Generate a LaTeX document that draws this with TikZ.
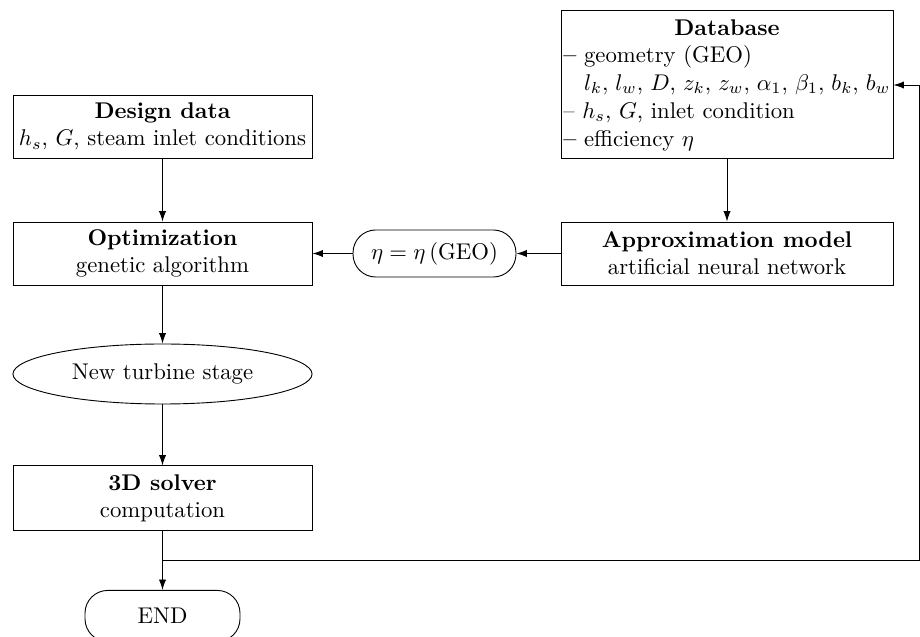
\documentclass[tikz,border=0pt]{standalone}
\usetikzlibrary{arrows.meta,shapes.geometric,positioning}
\newcommand{\gp}{\mskip2.6mu}
\begin{document}
\begin{tikzpicture}[x=0.44pt,y=-0.44pt,
  box/.style={draw,line width=0.4pt,inner sep=0pt,align=center},
  oval/.style={draw,ellipse,line width=0.4pt,inner sep=0pt,align=center},
  rnd/.style={draw,rounded corners=10pt,line width=0.4pt,inner sep=0pt,align=center},
  arr/.style={line width=0.4pt,-{Latex[length=4.6pt,width=3.2pt]}},
  ln/.style={line width=0.4pt}]
\useasboundingbox (0,0) rectangle (920,637);
\node[box,minimum width=146.1pt,minimum height=65.1pt] (db) at (727,84) {};
\node[anchor=north,inner sep=0pt] (dbt) at (727,19) {\textbf{Database}};
\node[anchor=north west,inner sep=0pt] (dbl) at (563,45) {%
\begin{minipage}{150pt}
\raggedright\baselineskip=12.3pt
\textbf{--} geometry (GEO)\par
\noindent\phantom{\textbf{--}} $l_k,\gp l_w,\gp D,\gp z_k,\gp z_w,\gp \alpha_1,\gp \beta_1,\gp b_k,\gp b_w$\par
-- $h_s$, $G$, inlet condition\par
\textbf{--} efficiency $\eta$
\end{minipage}};
\node[box,minimum width=131.6pt,minimum height=27.7pt] (dd) at (162.5,126.5) {\textbf{Design data}\\$h_s$, $G$, steam inlet conditions};
\node[box,minimum width=131.6pt,minimum height=27.7pt] (opt) at (162.5,253.5) {\textbf{Optimization}\\genetic algorithm};
\node[box,minimum width=146.1pt,minimum height=27.7pt] (app) at (727,253.5) {\textbf{Approximation model}\\artificial neural network};
\node[rnd,minimum width=71.7pt,minimum height=20.7pt] (eta) at (434.5,253.5) {$\eta=\eta\,(\mathrm{GEO})$};
\node[oval,minimum width=131.6pt,minimum height=26.4pt] (nts) at (162.5,374) {New turbine stage};
\node[box,minimum width=131.6pt,minimum height=28.2pt] (sol) at (162.5,498) {\textbf{3D solver}\\computation};
\node[rnd,minimum width=68.2pt,minimum height=22.5pt] (end) at (162.5,616) {END};
\coordinate (j) at (162.5,560);
\coordinate (r1) at (919.5,560);
\coordinate (r2) at (919.5,85);
\draw[arr] (dd) -- (opt);
\draw[arr] (db) -- (app);
\draw[arr] (app) -- (eta);
\draw[arr] (eta) -- (opt);
\draw[arr] (opt) -- (nts);
\draw[arr] (nts) -- (sol);
\draw[arr] (sol) -- (end);
\draw[ln] (j) -- (r1) -- (r2);
\draw[arr] (r2) -- (db.east |- r2);
\end{tikzpicture}
\end{document}
